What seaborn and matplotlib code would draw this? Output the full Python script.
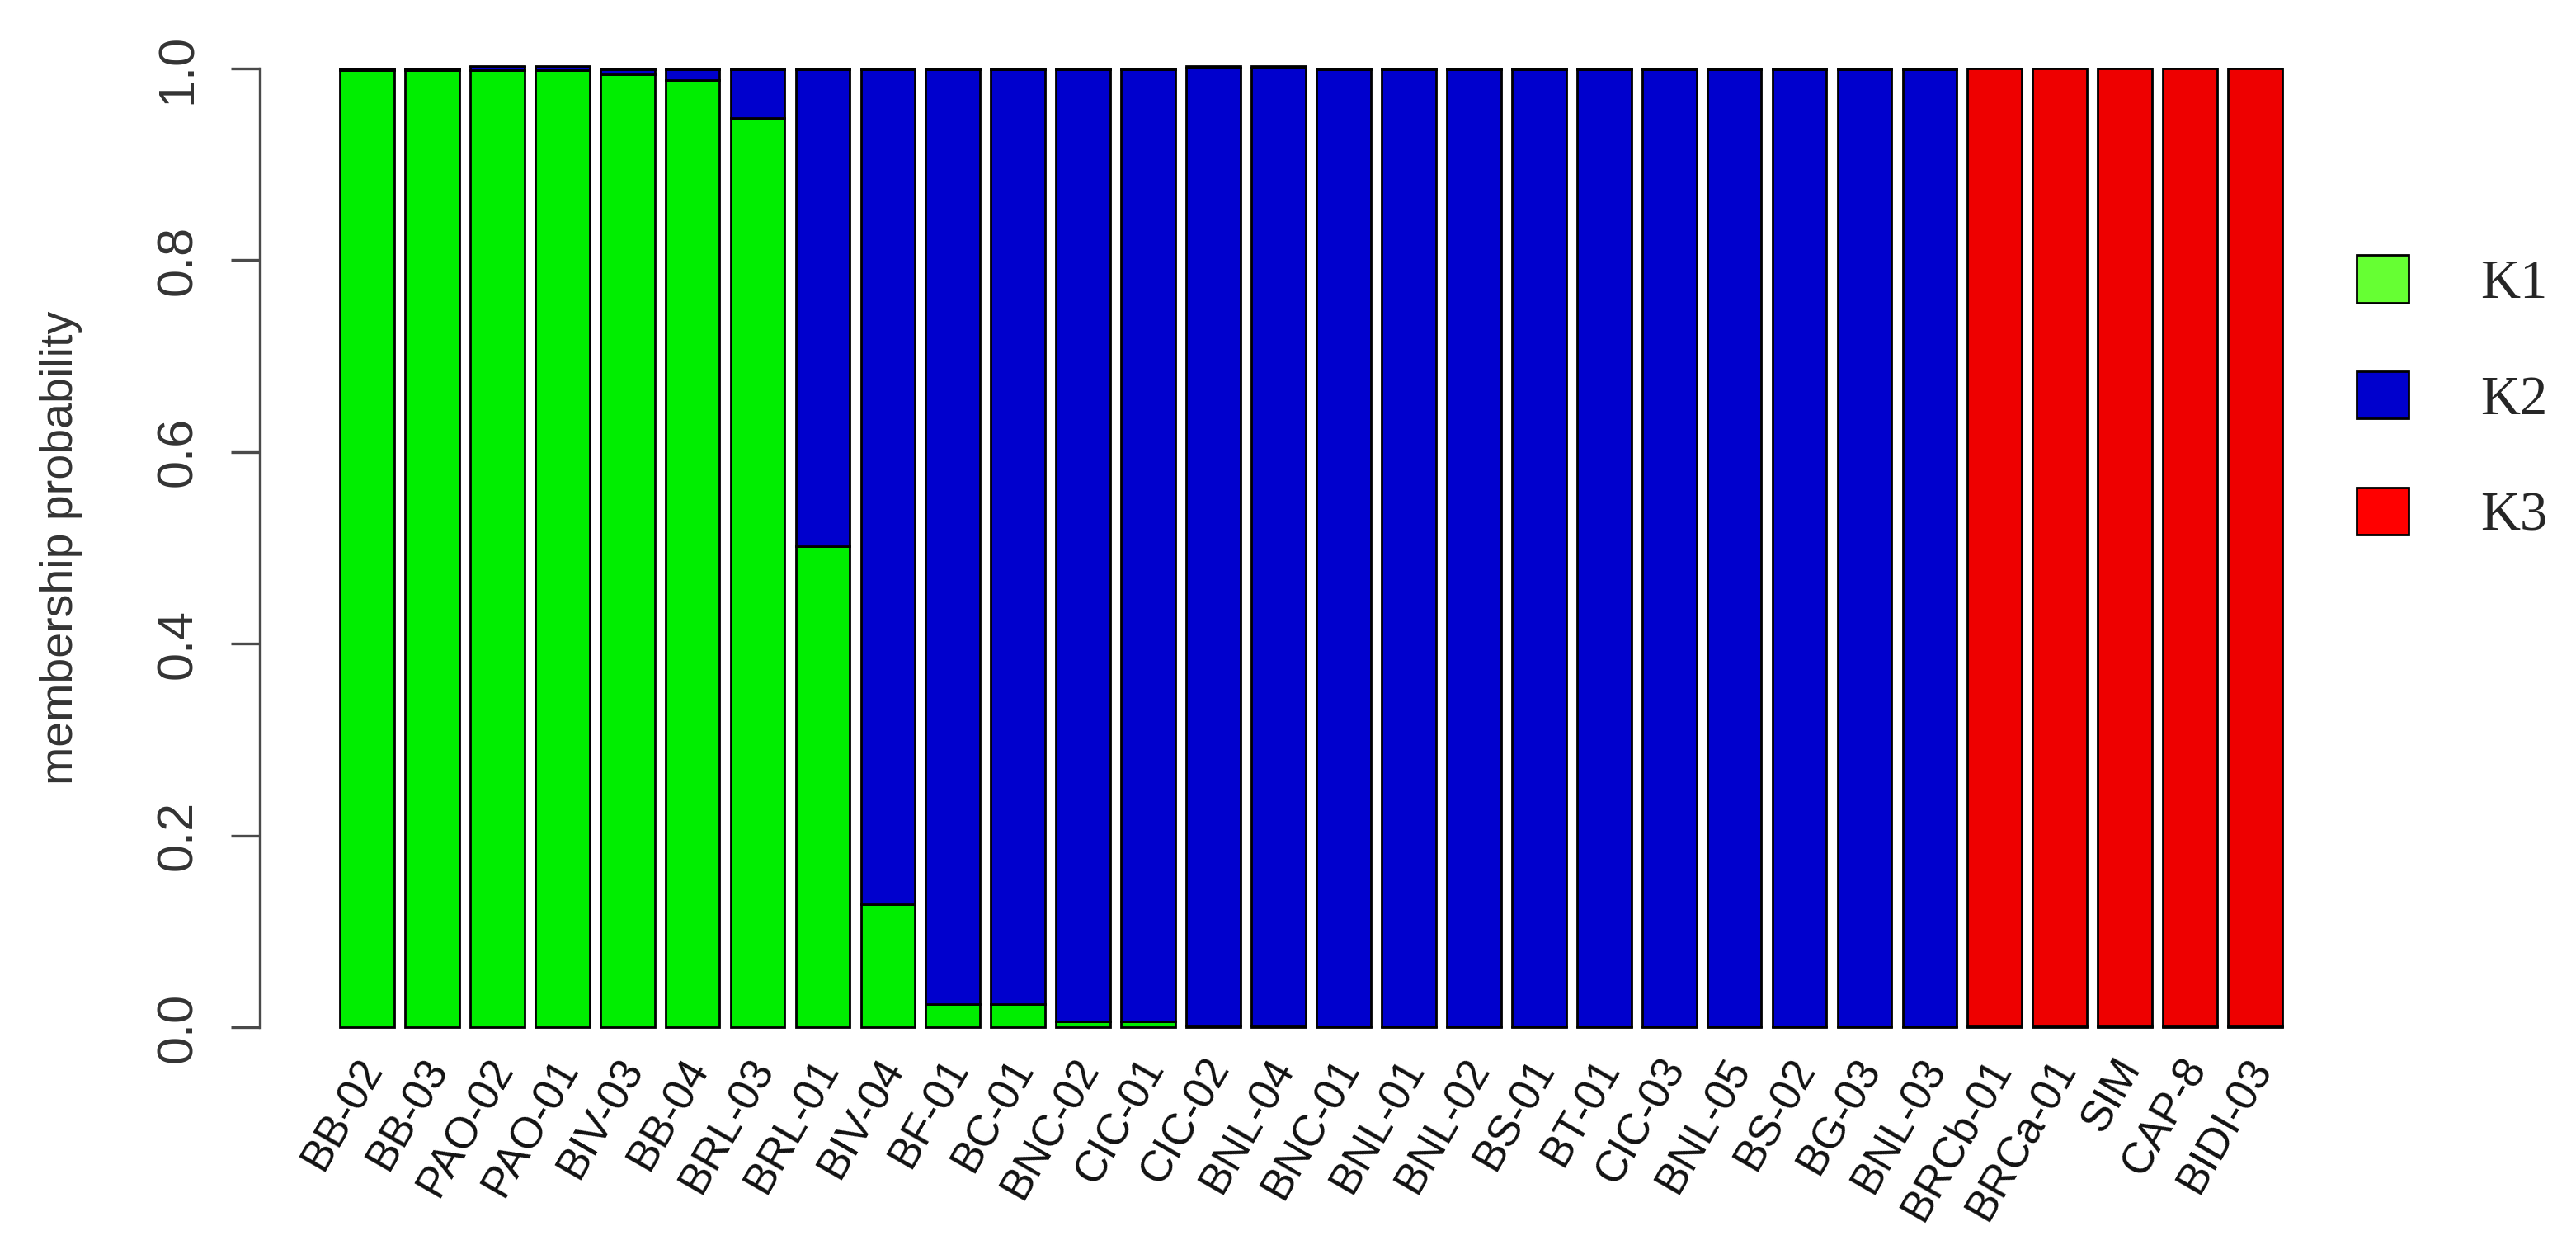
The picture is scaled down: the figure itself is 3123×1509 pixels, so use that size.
import matplotlib
matplotlib.use("Agg")
import matplotlib.pyplot as plt
import matplotlib.transforms as mtransforms
from matplotlib.patches import Patch
import seaborn as sns
import pandas as pd
import numpy as np

samples = ["BB-02", "BB-03", "PAO-02", "PAO-01", "BIV-03", "BB-04", "BRL-03", "BRL-01",
           "BIV-04", "BF-01", "BC-01", "BNC-02", "CIC-01", "CIC-02", "BNL-04", "BNC-01",
           "BNL-01", "BNL-02", "BS-01", "BT-01", "CIC-03", "BNL-05", "BS-02", "BG-03",
           "BNL-03", "BRCb-01", "BRCa-01", "SIM", "CAP-8", "BIDI-03"]
k1 = [0.998, 0.998, 0.998, 0.998, 0.994, 0.988, 0.948, 0.502, 0.128, 0.024, 0.024, 0.006,
      0.006, 0.002, 0.002, 0.001, 0.001, 0.001, 0.001, 0.001, 0.001, 0.001, 0.001, 0.001,
      0.001, 0.001, 0.001, 0.001, 0.001, 0.001]
k2 = [0.001, 0.001, 0.004, 0.004, 0.005, 0.011, 0.051, 0.497, 0.871, 0.975, 0.975, 0.993,
      0.993, 0.999, 0.999, 0.998, 0.998, 0.998, 0.998, 0.998, 0.998, 0.998, 0.998, 0.998,
      0.998, 0.001, 0.001, 0.001, 0.001, 0.001]
k3 = [0.001, 0.001, 0.001, 0.001, 0.001, 0.001, 0.001, 0.001, 0.001, 0.001, 0.001, 0.001,
      0.001, 0.002, 0.002, 0.001, 0.001, 0.001, 0.001, 0.001, 0.001, 0.001, 0.001, 0.001,
      0.001, 0.998, 0.998, 0.998, 0.998, 0.998]
cluster_labels = ["K1", "K2", "K3"]
bar_colors = ["#00EE00", "#0000CD", "#EE0000"]
legend_colors = ["#66FF33", "#0000CD", "#FF0000"]
y_ticks = [0.0, 0.2, 0.4, 0.6, 0.8, 1.0]

sns.set_style("white")
plt.rcParams["font.family"] = ["Liberation Sans", "DejaVu Sans"]

W, H = 3123, 1509
fig = plt.figure(figsize=(W / 100, H / 100), dpi=100)
fig.patch.set_facecolor("white")
ax_left, ax_right = 412, 2767
ax = fig.add_axes([ax_left / W, 1 - 1245 / H, (ax_right - ax_left) / W, (1245 - 83) / H])

df = pd.DataFrame({"sample": samples, "K1": k1, "K2": k2, "K3": k3})
bottom2 = np.array(k1)
bottom3 = np.array(k1) + np.array(k2)

common = dict(order=samples, width=0.833, edgecolor="black", linewidth=2.0,
              ax=ax, clip_on=False, saturation=1)
sns.barplot(data=df, x="sample", y="K1", color=bar_colors[0], **common)
sns.barplot(data=df, x="sample", y="K2", color=bar_colors[1], bottom=bottom2, **common)
sns.barplot(data=df, x="sample", y="K3", color=bar_colors[2], bottom=bottom3, **common)

ax.set_xlim(-0.4165, len(samples) - 1 + 0.4165)
ax.set_ylim(0, 1)
ax.set_xlabel("")
ax.set_ylabel("membership probability", fontsize=40, color="#333333")
ax.yaxis.set_label_coords(-(ax_left - 100) / (ax_right - ax_left), 0.5)

for s in ["top", "right", "bottom"]:
    ax.spines[s].set_visible(False)
ax.spines["left"].set_position(("outward", 70))
ax.spines["left"].set_linewidth(2.4)
ax.spines["left"].set_color("#4a4a4a")
ax.spines["left"].set_bounds(0, 1)

ax.set_yticks(y_ticks)
ax.set_yticklabels([f"{v:.1f}" for v in y_ticks])
ax.tick_params(axis="y", length=25, width=2.4, color="#4a4a4a", labelsize=44,
               labelcolor="#333333", pad=25, labelrotation=90, left=True, direction="out")
for lab in ax.get_yticklabels():
    lab.set_va("center")

ax.set_xticks(range(len(samples)))
ax.set_xticklabels(samples, rotation=60, ha="right", va="center", rotation_mode="anchor",
                   fontsize=38, color="#111111")
ax.tick_params(axis="x", length=0, pad=30)
offset = mtransforms.ScaledTranslation(8 / 100, 0, fig.dpi_scale_trans)
for lab in ax.get_xticklabels():
    lab.set_transform(lab.get_transform() + offset)

handles = [Patch(facecolor=c, edgecolor="black", linewidth=2.0) for c in legend_colors]
fig.legend(handles, cluster_labels, loc="center left",
           bbox_to_anchor=(2857 / W, 1 - 483 / H), bbox_transform=fig.transFigure,
           frameon=False, prop={"family": "Liberation Serif", "size": 48},
           handlelength=0.945, handleheight=0.945, handletextpad=1.3,
           labelspacing=1.13, borderpad=0, borderaxespad=0)

fig.savefig("out.png", dpi=100, facecolor="white")
